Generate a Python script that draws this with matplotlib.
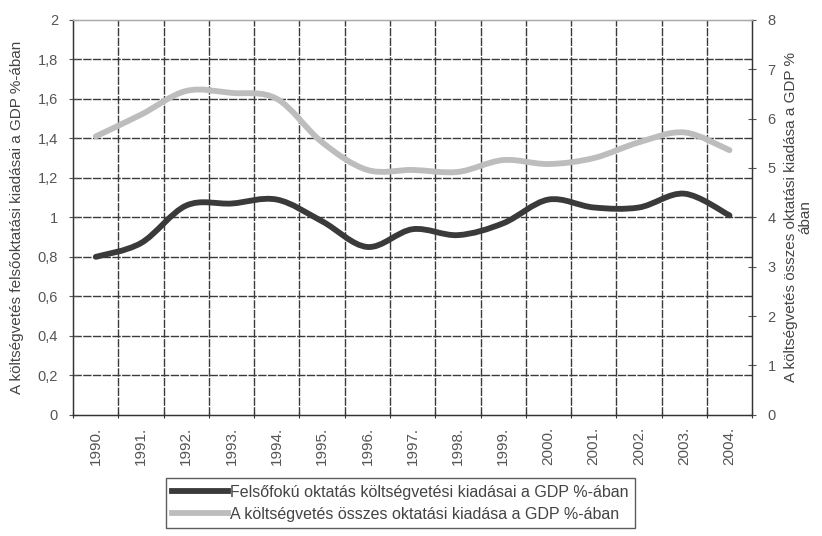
import matplotlib.pyplot as plt
import numpy as np
from matplotlib.path import Path
from matplotlib.patches import PathPatch
from matplotlib.lines import Line2D

years = ["1990.", "1991.", "1992.", "1993.", "1994.", "1995.", "1996.", "1997.",
         "1998.", "1999.", "2000.", "2001.", "2002.", "2003.", "2004."]
# felsőoktatás, % of GDP (left axis)
higher_ed = [0.80, 0.87, 1.06, 1.07, 1.09, 0.98, 0.85, 0.94, 0.91, 0.97,
             1.09, 1.05, 1.05, 1.12, 1.01]
# összes oktatás, % of GDP (right axis)
total_ed = [5.64, 6.08, 6.56, 6.52, 6.40, 5.52, 4.96, 4.96, 4.92, 5.16,
            5.08, 5.20, 5.52, 5.72, 5.36]

left_ticks = [0, 0.2, 0.4, 0.6, 0.8, 1, 1.2, 1.4, 1.6, 1.8, 2]
right_ticks = [0, 1, 2, 3, 4, 5, 6, 7, 8]

plt.rcParams.update({
    "font.family": "Liberation Sans",
    "font.size": 10,
})


def smooth_path(xs, ys):
    # excel-like smoothed line: cubic bezier segments through the points
    pts = np.column_stack([xs, ys]).astype(float)
    n = len(pts)
    verts = [pts[0]]
    codes = [Path.MOVETO]
    for i in range(n - 1):
        p0 = pts[i - 1] if i > 0 else pts[i]
        p1 = pts[i]
        p2 = pts[i + 1]
        p3 = pts[i + 2] if i + 2 < n else pts[i + 1]
        c1 = p1 + (p2 - p0) / 6.0
        c2 = p2 - (p3 - p1) / 6.0
        verts += [c1, c2, p2]
        codes += [Path.CURVE4] * 3
    return Path(verts, codes)


x = np.arange(len(years))
fig = plt.figure(figsize=(8.22, 5.36), dpi=100)
ax = fig.add_axes([0.089, 0.226, 0.826, 0.737])
ax2 = ax.twinx()

ax.set_xlim(-0.5, len(years) - 0.5)
ax.set_ylim(0, 2)
ax2.set_ylim(0, 8)

# grid: horizontal on left ticks, vertical on category boundaries
for v in left_ticks[1:-1]:
    ax.axhline(v, color="#3a3a3a", lw=1.0, ls=(0, (6, 1)), zorder=1)
for b in np.arange(0.5, len(years) - 0.5, 1):
    ax.axvline(b, color="#3a3a3a", lw=1.0, ls=(0, (6, 1)), zorder=1)

dark = "#3a3a3a"
light = "#bdbdbd"
ax.add_patch(PathPatch(smooth_path(x, higher_ed), fill=False, ec=dark, lw=4.2,
                       capstyle="round", zorder=3))
ax2.add_patch(PathPatch(smooth_path(x, total_ed), fill=False, ec=light, lw=4.2,
                        capstyle="round", zorder=3))

ax.set_yticks(left_ticks)
ax.set_yticklabels([("%g" % t).replace(".", ",") for t in left_ticks])
ax2.set_yticks(right_ticks)
ax.set_xticks(np.arange(-0.5, len(years), 1), minor=False)
ax.set_xticklabels([])
ax.set_xticks(x, minor=True)
ax.set_xticklabels(years, minor=True, rotation=90)
ax.tick_params(axis="x", which="minor", length=0, pad=9, colors="#555555",
               labelsize=11)
ax.tick_params(axis="x", which="major", length=5, direction="inout", color="#333333")
ax.tick_params(axis="y", length=6, direction="inout", colors="#555555", labelsize=10.5,
               pad=8)
ax2.tick_params(axis="y", length=6, direction="inout", colors="#555555", labelsize=10.5,
                pad=8)
for a in (ax, ax2):
    for s in a.spines.values():
        s.set_color("#333333")
        s.set_linewidth(0.9)
ax.spines["top"].set_color("#aaaaaa")
ax2.spines["top"].set_color("#aaaaaa")

ax.set_ylabel("A költségvetés felsőoktatási kiadásai a GDP %-ában", fontsize=11,
              color="#444444", labelpad=10)
ax2.set_ylabel("A költségvetés összes oktatási kiadása a GDP %\nában", fontsize=11,
               color="#444444", labelpad=6, rotation=90, linespacing=1.0)

handles = [Line2D([], [], color=dark, lw=4.2),
           Line2D([], [], color=light, lw=4.2)]
labels = ["Felsőfokú oktatás költségvetési kiadásai a GDP %-ában",
          "A költségvetés összes oktatási kiadása a GDP %-ában"]
leg = fig.legend(handles, labels, loc="upper center", bbox_to_anchor=(0.487, 0.108),
                 fontsize=11.5, frameon=True, fancybox=False, edgecolor="#333333",
                 handlelength=3.5, handletextpad=0.1, borderpad=0.4, labelspacing=0.45,
                 borderaxespad=0)
for t in leg.get_texts():
    t.set_color("#444444")

fig.savefig("out.png", dpi=100)
